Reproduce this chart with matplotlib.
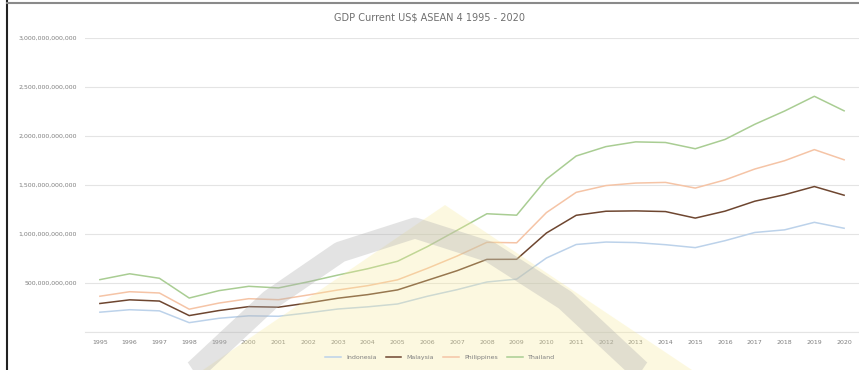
import numpy as np
import matplotlib.pyplot as plt
from matplotlib.patches import Polygon
from matplotlib.lines import Line2D

# GDP, current US$ (billions) - stacked line chart
years = list(range(1995, 2021))
indonesia = [202.1, 227.4, 215.7, 95.4, 140.0, 165.0, 160.4, 195.7, 234.8, 256.8,
             285.9, 364.6, 432.2, 510.2, 539.6, 755.1, 893.0, 917.9, 912.5, 890.8,
             860.9, 931.9, 1015.6, 1042.3, 1119.1, 1058.7]
malaysia = [88.8, 100.9, 100.0, 72.2, 79.1, 93.8, 92.8, 100.8, 110.2, 124.7,
            143.5, 162.7, 193.5, 230.8, 202.3, 255.0, 297.9, 314.4, 323.3, 338.1,
            301.4, 301.3, 319.1, 358.8, 365.2, 337.0]
philippines = [74.1, 82.8, 82.3, 65.2, 76.2, 81.0, 76.3, 81.4, 83.9, 91.4,
               103.1, 122.2, 149.4, 174.2, 168.3, 208.4, 234.2, 261.9, 283.9, 297.5,
               306.4, 318.6, 328.5, 346.8, 376.8, 361.5]
thailand = [169.3, 183.0, 150.2, 113.7, 126.7, 126.4, 120.3, 134.3, 152.3, 172.9,
            189.3, 221.8, 262.9, 291.4, 281.7, 341.1, 370.8, 397.6, 420.3, 407.3,
            401.3, 413.4, 456.4, 506.8, 544.0, 499.7]
countries = ['Indonesia', 'Malaysia', 'Philippines', 'Thailand']
colors = ['#bcd2ea', '#6e4630', '#f5c4a6', '#a9cd93']
yticks = [0, 5e11, 1e12, 1.5e12, 2e12, 2.5e12, 3e12]

W, H = 859, 370
fig = plt.figure(figsize=(W / 100, H / 100), dpi=100)

def px(x, y):
    return (x / W, 1 - y / H)

ax = fig.add_axes([85 / W, (H - 332) / H, (W - 85) / W, (332 - 38) / H])
ax.patch.set_alpha(0)

x = np.arange(len(years))
stacked = np.cumsum(np.vstack([indonesia, malaysia, philippines, thailand]), axis=0) * 1e9
for i, name in enumerate(countries):
    ax.plot(x, stacked[i], color=colors[i], lw=1.1, label=name, zorder=3)

ax.set_xlim(-0.5, len(years) - 0.5)
ax.set_ylim(0, 3e12)
ax.set_yticks(yticks)
ax.set_yticklabels(['' if v == 0 else f'{int(v):,}' for v in yticks])
ax.set_xticks(x)
ax.set_xticklabels([str(y) for y in years])
ax.tick_params(axis='both', length=0, labelsize=4.5, labelcolor='#7f7f7f')
ax.tick_params(axis='y', pad=6)
ax.tick_params(axis='x', pad=6)
ax.grid(axis='y', color='#e4e4e4', lw=0.8)
ax.set_axisbelow(True)
for s in ['top', 'right', 'left']:
    ax.spines[s].set_visible(False)
ax.spines['bottom'].set_color('#e4e4e4')
ax.spines['bottom'].set_linewidth(0.8)

fig.text(0.5, 1 - 17 / H, 'GDP Current US$ ASEAN 4 1995 - 2020', ha='center',
         va='center', fontsize=7, color='#6f6f6f')
fig.legend(loc='center', bbox_to_anchor=(440 / W, 1 - 357 / H), ncol=4,
           frameon=False, fontsize=4.5, handlelength=2.5, columnspacing=1.5,
           labelcolor='#7f7f7f')

# faint watermark over the chart (pale triangle + grey arch)
tri = Polygon([px(200, 372), px(445, 205), px(695, 372)], closed=True,
              transform=fig.transFigure, facecolor='#f8eb9a', edgecolor='none',
              alpha=0.3, zorder=5)
fig.add_artist(tri)
arch = [(150, 400), (195, 370), (270, 300), (340, 252), (415, 228),
        (490, 252), (565, 300), (640, 370), (685, 400)]
fig.add_artist(Line2D([px(*p)[0] for p in arch], [px(*p)[1] for p in arch],
                      transform=fig.transFigure, color='#b0b0b0', lw=15,
                      alpha=0.35, solid_capstyle='butt', solid_joinstyle='round',
                      zorder=6))

# frame border of the screenshot
fig.add_artist(Line2D([7 / W, 7 / W], [0, 1], transform=fig.transFigure,
                      color='#222222', lw=1.5, zorder=7))
fig.add_artist(Line2D([7 / W, 1], [1 - 3 / H, 1 - 3 / H], transform=fig.transFigure,
                      color='#8a8a8a', lw=1.5, zorder=7))

fig.savefig('out.png', dpi=100)
